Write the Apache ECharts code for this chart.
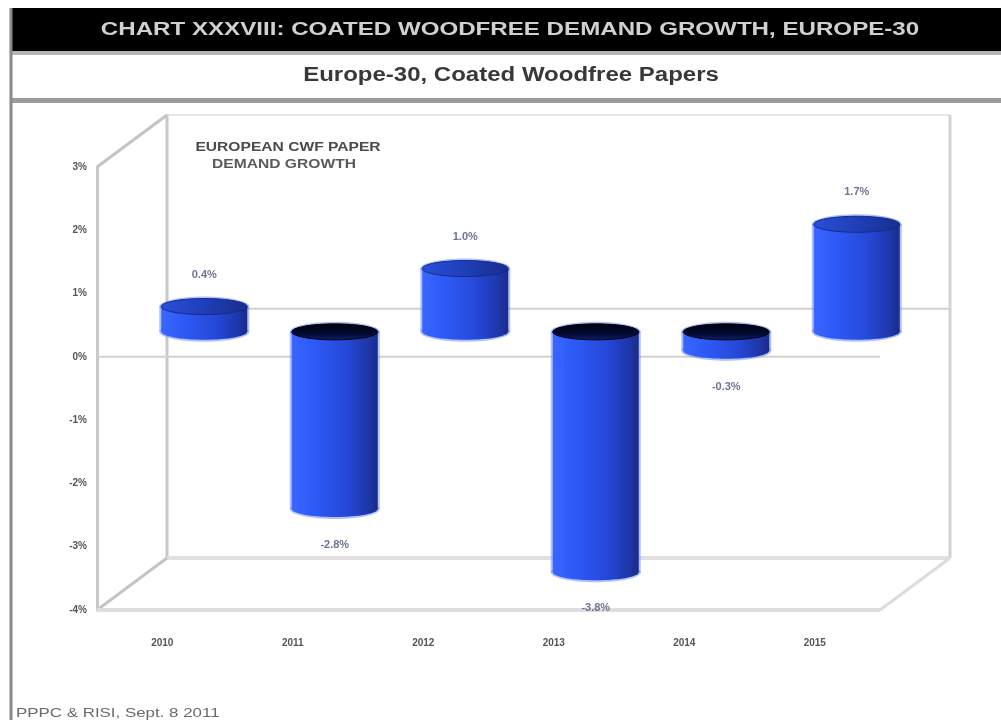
<!DOCTYPE html>
<html>
<head>
<meta charset="utf-8">
<script src="https://cdn.jsdelivr.net/npm/echarts@6/dist/echarts.min.js"></script>
<style>
  html, body { margin: 0; padding: 0; background: #ffffff; }
  #chart { width: 1001px; height: 720px; }
</style>
</head>
<body>
<div id="chart"></div>
<script>
// ---- chart data ----
const years = ['2010', '2011', '2012', '2013', '2014', '2015'];
const growth = [0.4, -2.8, 1.0, -3.8, -0.3, 1.7];          // demand growth, %
const yTicks = [-4, -3, -2, -1, 0, 1, 2, 3];               // value axis ticks, %
const titleText = 'CHART XXXVIII: COATED WOODFREE DEMAND GROWTH, EUROPE-30';
const subtitleText = 'Europe-30, Coated Woodfree Papers';
const insetLines = ['EUROPEAN CWF PAPER', 'DEMAND GROWTH'];
const sourceText = 'PPPC & RISI, Sept. 8 2011';

// ---- layout / style ----
const GRID = { left: 97, top: 167, width: 783, height: 443 };
const DEPTH = [70, -52];        // offset of the back wall from the front plane
const BAR_SHIFT = [42, -25];    // cylinders stand halfway into the box
const BAR_W = 86;
const CAP_RY = 8;
const FONT = '"Liberation Sans", Arial, sans-serif';

const chart = echarts.init(document.getElementById('chart'), null, { renderer: 'canvas' });

// 3-D box outline: back wall, floor and zero lines
function renderFrame(params, api) {
  const cs = params.coordSys;
  const x0 = cs.x, x1 = cs.x + cs.width, y0 = cs.y, y1 = cs.y + cs.height;
  const dx = DEPTH[0], dy = DEPTH[1];
  const zeroY = api.coord([0, 0])[1];
  const line = (ax, ay, bx, by, color, w) => ({
    type: 'line',
    shape: { x1: ax, y1: ay, x2: bx, y2: by },
    style: { stroke: color, lineWidth: w },
    silent: true
  });
  return {
    type: 'group',
    children: [
      line(x0 + dx, y0 + dy, x1 + dx, y0 + dy, '#e6e6e6', 2),
      line(x0 + dx, y0 + dy, x0 + dx, y1 + dy, '#c8c8c8', 3),
      line(x1 + dx, y0 + dy, x1 + dx, y1 + dy, '#d2d2d2', 3),
      line(x0, y0, x0 + dx, y0 + dy, '#c4c4c4', 3),
      line(x0 + dx, y1 + dy, x1 + dx, y1 + dy, '#e0e0e0', 4),
      line(x0, y1, x0 + dx, y1 + dy, '#c4c4c4', 3),
      line(x1, y1, x1 + dx, y1 + dy, '#dcdcdc', 3),
      line(x0, y1, x1, y1, '#dedede', 4),
      line(x0 + dx, zeroY + dy + 4, x1 + dx, zeroY + dy + 4, '#d6d0ca', 2),
      line(x0, zeroY, x1, zeroY, '#d6d0ca', 2)
    ]
  };
}

// cylinder for each year's growth value
function renderCylinder(params, api) {
  const i = api.value(0);
  const v = api.value(1);
  const pTop = api.coord([i, Math.max(v, 0)]);
  const pBot = api.coord([i, Math.min(v, 0)]);
  const cx = pTop[0] + BAR_SHIFT[0];
  const yT = pTop[1] + BAR_SHIFT[1];
  const yB = pBot[1] + BAR_SHIFT[1];
  const rx = BAR_W / 2, ry = CAP_RY;

  const body = new echarts.graphic.LinearGradient(0, 0, 1, 0, [
    { offset: 0, color: '#3a66ff' },
    { offset: 0.25, color: '#2d5af7' },
    { offset: 0.65, color: '#2547d6' },
    { offset: 0.9, color: '#1d35a6' },
    { offset: 1, color: '#1a2c88' }
  ]);
  const cap = v >= 0
    ? new echarts.graphic.LinearGradient(0, 0, 1, 0, [
        { offset: 0, color: '#2a4fd8' },
        { offset: 0.5, color: '#1f3fb8' },
        { offset: 1, color: '#172e8c' }
      ])
    : new echarts.graphic.LinearGradient(0, 0, 0, 1, [
        { offset: 0, color: '#000010' },
        { offset: 0.6, color: '#020a30' },
        { offset: 1, color: '#0c2070' }
      ]);
  const halo = 'rgba(110,140,255,0.55)';
  const label = v.toFixed(1) + '%';
  const labelY = v >= 0 ? yT - 32 : yB + 36;

  return {
    type: 'group',
    children: [
      { type: 'ellipse', shape: { cx: cx, cy: yB, rx: rx + 2, ry: ry + 2 }, style: { fill: halo } },
      { type: 'rect', shape: { x: cx - rx - 2, y: yT, width: BAR_W + 4, height: yB - yT }, style: { fill: halo } },
      { type: 'ellipse', shape: { cx: cx, cy: yT, rx: rx + 2, ry: ry + 2 }, style: { fill: halo } },
      { type: 'rect', shape: { x: cx - rx, y: yT, width: BAR_W, height: yB - yT }, style: { fill: body } },
      { type: 'ellipse', shape: { cx: cx, cy: yB, rx: rx, ry: ry }, style: { fill: body } },
      { type: 'ellipse', shape: { cx: cx, cy: yT, rx: rx, ry: ry }, style: { fill: cap, stroke: v >= 0 ? '#16288a' : '#000000', lineWidth: 1 } },
      {
        type: 'text',
        style: {
          x: cx, y: labelY, text: label,
          align: 'center', verticalAlign: 'middle',
          fill: '#6c7396', font: 'bold 11px ' + FONT
        }
      }
    ]
  };
}

const option = {
  animation: false,
  backgroundColor: '#ffffff',
  grid: { left: GRID.left, top: GRID.top, width: GRID.width, height: GRID.height, containLabel: false },
  xAxis: {
    type: 'category',
    data: years,
    boundaryGap: true,
    axisLine: { show: false },
    axisTick: { show: false },
    axisLabel: { margin: 28, color: '#555555', fontSize: 10, fontWeight: 'bold', fontFamily: FONT }
  },
  yAxis: {
    type: 'value',
    min: yTicks[0],
    max: yTicks[yTicks.length - 1],
    interval: 1,
    axisLine: { show: true, lineStyle: { color: '#c8c8c8', width: 3 } },
    axisTick: { show: false },
    splitLine: { show: false },
    axisLabel: {
      margin: 10, color: '#555555', fontSize: 10, fontWeight: 'bold',
      fontFamily: FONT,
      formatter: v => v + '%'
    }
  },
  graphic: [
    // page frame and header
    { type: 'rect', shape: { x: 10, y: 8, width: 991, height: 43 }, style: { fill: '#000000' }, z: 1 },
    { type: 'line', shape: { x1: 11, y1: 8, x2: 11, y2: 720 }, style: { stroke: '#8a8a8a', lineWidth: 3 }, z: 2 },
    { type: 'rect', shape: { x: 10, y: 51, width: 991, height: 4 }, style: { fill: '#b4b4b4' }, z: 1 },
    { type: 'rect', shape: { x: 10, y: 98, width: 991, height: 5 }, style: { fill: '#9c9c9c' }, z: 1 },
    {
      type: 'text', x: 510, y: 30, scaleX: 1.34, z: 3,
      style: { text: titleText, fill: '#d0d0d0', align: 'center', verticalAlign: 'middle', font: 'bold 18px ' + FONT }
    },
    {
      type: 'text', x: 511, y: 75, scaleX: 1.2, z: 3,
      style: { text: subtitleText, fill: '#383838', align: 'center', verticalAlign: 'middle', font: 'bold 20px ' + FONT }
    },
    {
      type: 'text', x: 288, y: 148, scaleX: 1.3, z: 3,
      style: { text: insetLines[0], fill: '#4a4a4a', align: 'center', verticalAlign: 'middle', font: 'bold 12px ' + FONT }
    },
    {
      type: 'text', x: 284, y: 165, scaleX: 1.3, z: 3,
      style: { text: insetLines[1], fill: '#5a5a5a', align: 'center', verticalAlign: 'middle', font: 'bold 12px ' + FONT }
    },
    {
      type: 'text', x: 16, y: 713, scaleX: 1.3, z: 3,
      style: { text: sourceText, fill: '#6a6a6a', verticalAlign: 'middle', font: '13px ' + FONT }
    }
  ],
  series: [
    {
      name: 'frame',
      type: 'custom',
      renderItem: renderFrame,
      data: [[0, 0]],
      silent: true,
      z: 1
    },
    {
      name: 'Demand growth',
      type: 'custom',
      renderItem: renderCylinder,
      data: growth.map((g, i) => [i, g]),
      z: 5
    }
  ]
};

chart.setOption(option);
</script>
</body>
</html>
